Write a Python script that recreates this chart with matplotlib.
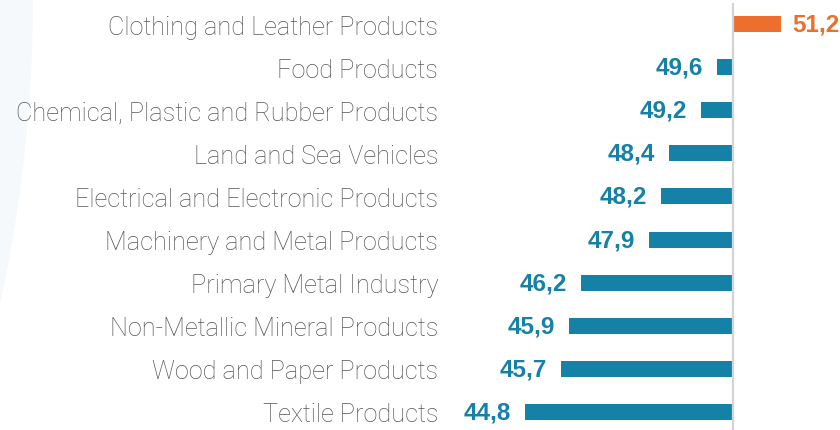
import matplotlib
matplotlib.use("Agg")
import matplotlib.pyplot as plt
from matplotlib.patches import Ellipse

categories = [
    "Clothing and Leather Products",
    "Food Products",
    "Chemical, Plastic and Rubber Products",
    "Land and Sea Vehicles",
    "Electrical and Electronic Products",
    "Machinery and Metal Products",
    "Primary Metal Industry",
    "Non-Metallic Mineral Products",
    "Wood and Paper Products",
    "Textile Products",
]
values = [51.2, 49.6, 49.2, 48.4, 48.2, 47.9, 46.2, 45.9, 45.7, 44.8]
baseline = 50.0

BLUE = "#1581a6"
ORANGE = "#ec6f2d"

W, H = 840, 431
fig = plt.figure(figsize=(W / 100, H / 100), dpi=100)
fig.patch.set_facecolor("white")

# faint background circle
cx, cy, r = -1393, 0, 1426
fig.add_artist(Ellipse((cx / W, 1 - cy / H), 2 * r / W, 2 * r / H,
                       transform=fig.transFigure, facecolor="#f5f9fb",
                       edgecolor="none", zorder=-5))

ax = fig.add_axes([450 / W, 0, 390 / W, 1])
ax.set_facecolor("none")

ys = list(range(len(categories)))
colors = [ORANGE if v >= baseline else BLUE for v in values]
ax.barh(ys, [v - baseline for v in values], left=baseline, height=0.37,
        color=colors, zorder=2)

ax.axvline(baseline, ymin=0, ymax=1 - 5 / H, color="#d4d4d4", lw=1.6, zorder=3)

px = 40.0  # pixels per unit
ax.set_xlim(baseline - 283 / px, baseline + 107 / px)
sp = 43.11
ax.set_ylim(9 + 18 / sp, -25 / sp)

for y, v, c in zip(ys, values, colors):
    lab = f"{v:.1f}".replace(".", ",")
    if v >= baseline:
        ax.text(v + 11 / px, y, lab, ha="left", va="center", color=c,
                fontsize=17.5, fontweight="bold", family="Liberation Sans")
    else:
        ax.text(v - 14 / px, y, lab, ha="right", va="center", color=c,
                fontsize=17.5, fontweight="bold", family="Liberation Sans")

ax.set_yticks(ys)
ax.set_yticklabels(categories, fontsize=18.2, color="#555555",
                   family="Roboto", fontweight="light")
ax.tick_params(axis="y", length=0, pad=8.6)
ax.set_xticks([])
for s in ax.spines.values():
    s.set_visible(False)

fig.savefig("out.png", dpi=100)
